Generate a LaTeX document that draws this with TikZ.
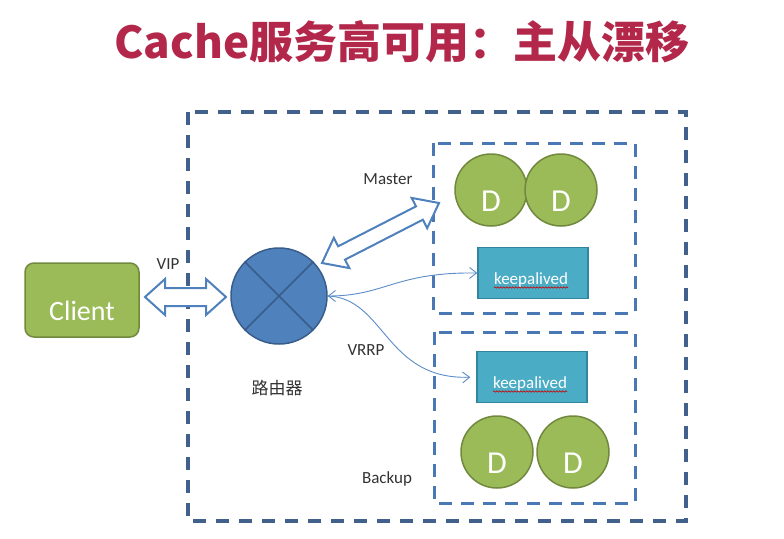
\documentclass[tikz,border=0pt]{standalone}
\usepackage{fontspec}
\setmainfont{Carlito}
\newfontfamily\cjk{Noto Sans CJK SC}
\usetikzlibrary{calc,arrows.meta,decorations.pathmorphing}
\definecolor{titlered}{HTML}{B3284A}
\definecolor{outerdash}{HTML}{41618C}
\definecolor{innerdash}{HTML}{4A78B4}
\definecolor{greenfill}{HTML}{9BBB59}
\definecolor{greendraw}{HTML}{71893E}
\definecolor{tealfill}{HTML}{4BACC6}
\definecolor{tealdraw}{HTML}{31859C}
\definecolor{routerfill}{HTML}{4F81BD}
\definecolor{routerdraw}{HTML}{385D8A}
\definecolor{arrowblue}{HTML}{4F81BD}
\definecolor{curveblue}{HTML}{5B8CC8}
\definecolor{labelgray}{HTML}{333333}
\tikzset{
  outerbox/.style={draw=outerdash,line width=3.2pt,dash pattern=on 13pt off 10pt},
  innerbox/.style={draw=innerdash,line width=3pt,dash pattern=on 13pt off 9pt},
  dcirc/.style={circle,fill=greenfill,draw=greendraw,line width=1.5pt,minimum size=72pt,inner sep=0pt},
  dtext/.style={text=white,font=\fontsize{32}{34}\selectfont,inner sep=0pt},
  keepbox/.style={rectangle,fill=tealfill,draw=tealdraw,line width=1.5pt,minimum width=110pt,minimum height=51pt,inner sep=0pt},
  keeptext/.style={text=white,font=\fontsize{17}{19}\selectfont,inner sep=0pt},
  wavy/.style={draw=red!80!black,line width=0.6pt,decorate,decoration={snake,segment length=3pt,amplitude=0.7pt}},
  lbl/.style={text=labelgray,font=\fontsize{17}{19}\selectfont,inner sep=0pt},
  barrow/.style={draw=arrowblue,fill=white,line width=2pt,line join=miter},
  thincurve/.style={draw=curveblue,line width=0.9pt},
}
\newcommand{\blockarrow}[5]{% #1 tip A, #2 tip B, #3 head length, #4 half shaft, #5 half head
  \draw[barrow] (#1)
    -- ($($(#1)!#3!(#2)$)!#5!90:(#2)$)
    -- ($($(#1)!#3!(#2)$)!#4!90:(#2)$)
    -- ($($(#2)!#3!(#1)$)!#4!-90:(#1)$)
    -- ($($(#2)!#3!(#1)$)!#5!-90:(#1)$)
    -- (#2)
    -- ($($(#2)!#3!(#1)$)!#5!90:(#1)$)
    -- ($($(#2)!#3!(#1)$)!#4!90:(#1)$)
    -- ($($(#1)!#3!(#2)$)!#4!-90:(#2)$)
    -- ($($(#1)!#3!(#2)$)!#5!-90:(#2)$)
    -- cycle;}
\begin{document}
\begin{tikzpicture}[x=1pt,y=-1pt]
\useasboundingbox[fill=white] (0,0) rectangle (784,538);

% title
\node[text=titlered,font=\cjk\bfseries\fontsize{44}{48}\selectfont,inner sep=0pt] (title) at (402,42) {Cache服务高可用：主从漂移};

% dashed boxes
\draw[outerbox] (188,112) rectangle (686,521);
\draw[innerbox] (433,143) rectangle (635,313);
\draw[innerbox] (434,332) rectangle (635,503);

% client
\node[rectangle,rounded corners=9pt,fill=greenfill,draw=greendraw,line width=1.5pt,minimum width=114pt,minimum height=74pt] (client) at (82,300) {};
\node[text=white,font=\fontsize{28}{30}\selectfont,inner sep=0pt] (clienttext) at (82,311) {Client};

% router
\node[circle,fill=routerfill,draw=routerdraw,line width=1.5pt,minimum size=96pt,inner sep=0pt] (router) at (279,296) {};
\draw[routerdraw,line width=1.5pt] (router.45) -- (router.225);
\draw[routerdraw,line width=1.5pt] (router.135) -- (router.315);

% master
\node[dcirc] (dm1) at (491,190) {};
\node[dcirc] (dm2) at (561,190) {};
\node[dtext] (dm1t) at ($(dm1.center)+(0,11)$) {D};
\node[dtext] (dm2t) at ($(dm2.center)+(0,11)$) {D};
\node[keepbox] (km) at (533,273) {};
\node[keeptext] (kmt) at (531,280) {keepalived};
\draw[wavy] ($(kmt.base west)+(0,3)$) -- ($(kmt.base east)+(0,3)$);

% backup
\node[keepbox] (kb) at (532,377) {};
\node[keeptext] (kbt) at (530,384) {keepalived};
\draw[wavy] ($(kbt.base west)+(0,3)$) -- ($(kbt.base east)+(0,3)$);
\node[dcirc] (db1) at (497,452) {};
\node[dcirc] (db2) at (573,452) {};
\node[dtext] (db1t) at ($(db1.center)+(0,11)$) {D};
\node[dtext] (db2t) at ($(db2.center)+(0,11)$) {D};

% labels
\node[lbl] (master) at (388,179) {Master};
\node[lbl] (backup) at (387,479) {Backup};
\node[lbl] (vip) at (168,264) {VIP};
\node[lbl] (vrrp) at (366,350) {VRRP};
\node[text=labelgray,font=\cjk\fontsize{17}{19}\selectfont,inner sep=0pt] (routerlbl) at (277,388) {路由器};

% block arrows
\coordinate (vipL) at (145,297);
\coordinate (vipR) at (226,297);
\blockarrow{vipL}{vipR}{20pt}{9pt}{18pt}
\coordinate (diagA) at (322,263);
\coordinate (diagB) at (439,203);
\blockarrow{diagA}{diagB}{22pt}{7.5pt}{17pt}

% thin curved arrows
\draw[thincurve,{Straight Barb[length=7pt,width=11pt]}-{Straight Barb[length=7pt,width=11pt]}]
  (router.east) .. controls (385,296) and (395,272) .. (km.west);
\draw[thincurve,-{Straight Barb[length=7pt,width=11pt]},shorten >=6pt]
  (router.east) .. controls (385,298) and (385,380) .. (kb.west);
\end{tikzpicture}
\end{document}
